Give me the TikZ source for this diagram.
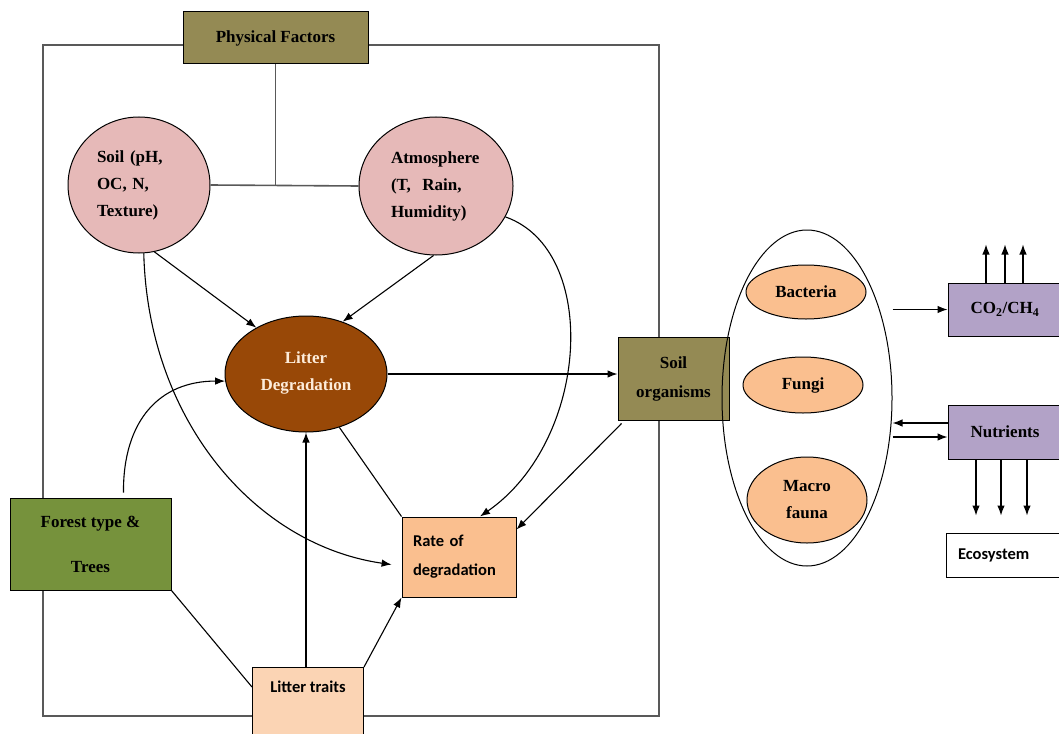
\documentclass[tikz,border=0pt]{standalone}
\usepackage{fontspec}
\setmainfont{Liberation Serif}
\newfontfamily\calib{Carlito}
\usetikzlibrary{shapes.geometric,arrows.meta}

\definecolor{olivebox}{RGB}{148,138,84}
\definecolor{soilpink}{RGB}{230,185,184}
\definecolor{litterbrown}{RGB}{152,72,7}
\definecolor{creamtext}{RGB}{253,236,218}
\definecolor{forestgreen}{RGB}{118,146,60}
\definecolor{peach}{RGB}{250,191,143}
\definecolor{lightpeach}{RGB}{251,212,180}
\definecolor{lavender}{RGB}{178,162,199}

\begin{document}
\begin{tikzpicture}[x=1pt,y=-1pt,>={Latex[length=10pt,width=7.5pt]}]
		\tikzset{box/.style = {shape=rectangle, draw, line width=1pt, inner sep=3pt, font=\fontsize{17}{27}\selectfont\bfseries, align=center},
			sansbox/.style = {box, font=\calib\fontsize{16.5}{29}\selectfont\bfseries},
			blob/.style = {shape=ellipse, draw, line width=1pt, inner sep=0pt, font=\fontsize{17}{27}\selectfont\bfseries, align=center},
			conn/.style = {line width=1.1pt},
			fence/.style = {draw=black!65, line width=1.6pt}}

		\path[use as bounding box, clip] (0,0) rectangle (1059,733);

		\draw[fence] (43,45) rectangle (659,716);

		\node[box, fill=olivebox, minimum width=185pt, minimum height=52pt] (Phys) at (275.5,38) {Physical Factors};
		\node[blob, fill=soilpink, minimum width=142pt, minimum height=136pt, text width=84pt, align=left] (Soil) at (139,185) {Soil (pH,\\OC, N,\\Texture)};
		\node[blob, fill=soilpink, minimum width=154pt, minimum height=138pt, text width=90pt, align=left] (Atmo) at (436,186) {Atmosphere\\(T,\ \ Rain,\\Humidity)};
		\node[blob, fill=litterbrown, text=creamtext, minimum width=162pt, minimum height=116pt, text height=36pt] (LD) at (306,374) {Litter\\Degradation};
		\node[box, fill=olivebox, minimum width=111pt, minimum height=83pt, font=\fontsize{17}{29}\selectfont\bfseries] (SO) at (673.5,378.5) {Soil\\organisms};
		\node[sansbox, fill=peach, minimum width=114pt, minimum height=80pt, text width=92pt, align=left] (Rate) at (459,557) {Rate of\\degradation};
		\node[box, fill=forestgreen, minimum width=161pt, minimum height=92pt] (Forest) at (90.5,544) {Forest type \&\\[18pt]Trees};
		\node[sansbox, fill=lightpeach, anchor=north west, minimum width=111pt, inner sep=4pt, text height=21pt, text depth=54pt] (Traits) at (252,667) {Litter traits};

		\node[blob, minimum width=170pt, minimum height=336pt] (Group) at (807,398) {};
		\node[blob, fill=peach, minimum width=120pt, minimum height=54pt] (Bact) at (806,292) {Bacteria};
		\node[blob, fill=peach, minimum width=120pt, minimum height=56pt] (Fungi) at (803,385) {Fungi};
		\node[blob, fill=peach, minimum width=120pt, minimum height=86pt] (Macro) at (807,500) {Macro\\fauna};

		\node[box, fill=lavender, minimum width=114pt, minimum height=53pt] (CO) at (1005,309.5) {CO\textsubscript{2}/CH\textsubscript{4}};
		\node[box, fill=lavender, minimum width=114pt, minimum height=54pt] (Nutr) at (1005,432) {Nutrients};
		\node[sansbox, fill=white, minimum width=119pt, minimum height=44pt, text width=95pt, align=left] (Eco) at (1005.5,555) {Ecosystem};

		\coordinate (J) at (Phys.south |- Soil.east);

		\draw[fence] (Phys.south) -- (J);
		\draw[fence] (Soil.east) -- (Atmo.west);

		\draw[conn,->] (Soil.-77) -- (LD.137);
		\draw[conn,->] (Atmo.-92) -- (LD.55);
		\draw[conn,->] (LD.east) -- (LD.east -| SO.west);
		\draw[conn,->] ([xshift=4pt,yshift=-3pt]SO.south west) -- ([yshift=-13pt]Rate.north east);
		\draw[conn] (LD.-58) -- (Rate.north west);
		\draw[conn,->] (LD.south |- Traits.north) -- (LD.south);
		\draw[conn,->] (Traits.north east) -- (Rate.south west);
		\draw[conn] (Forest.south east) -- ([yshift=-20pt]Traits.north west);

		\draw[conn,->,shorten >=10pt] (Soil.-86) .. controls (148,420) and (255,545) .. ([yshift=-9pt]Rate.west);
		\draw[conn,->,shorten <=5pt] ([xshift=33pt]Forest.north) .. controls (123,420) and (160,381) .. (LD.185);
		\draw[conn,->] (Atmo.-24) .. controls (600,250) and (590,440) .. ([xshift=21pt]Rate.north);

		\draw[conn,->] (CO.west -| Group.east) -- (CO.west);
		\draw[conn,->] ([yshift=9pt]Nutr.west) -- ([yshift=9pt]Nutr.west -| Group.east);
		\draw[conn,->] ([yshift=-5pt]Nutr.west -| Group.east) -- ([yshift=-5pt]Nutr.west);

		\foreach \d [count=\i] in {-19,0,18} {
			\coordinate (U_\i) at ([xshift=\d pt, yshift=38pt]CO.north);
			\draw[conn,->] ([xshift=\d pt]CO.north) -- (U_\i);
		}
		\foreach \d [count=\i] in {-29,-4,22} {
			\coordinate (D_\i) at ([xshift=\d pt, yshift=-56pt]Nutr.south);
			\draw[conn,->] ([xshift=\d pt]Nutr.south) -- (D_\i);
		}

	\end{tikzpicture}
\end{document}
